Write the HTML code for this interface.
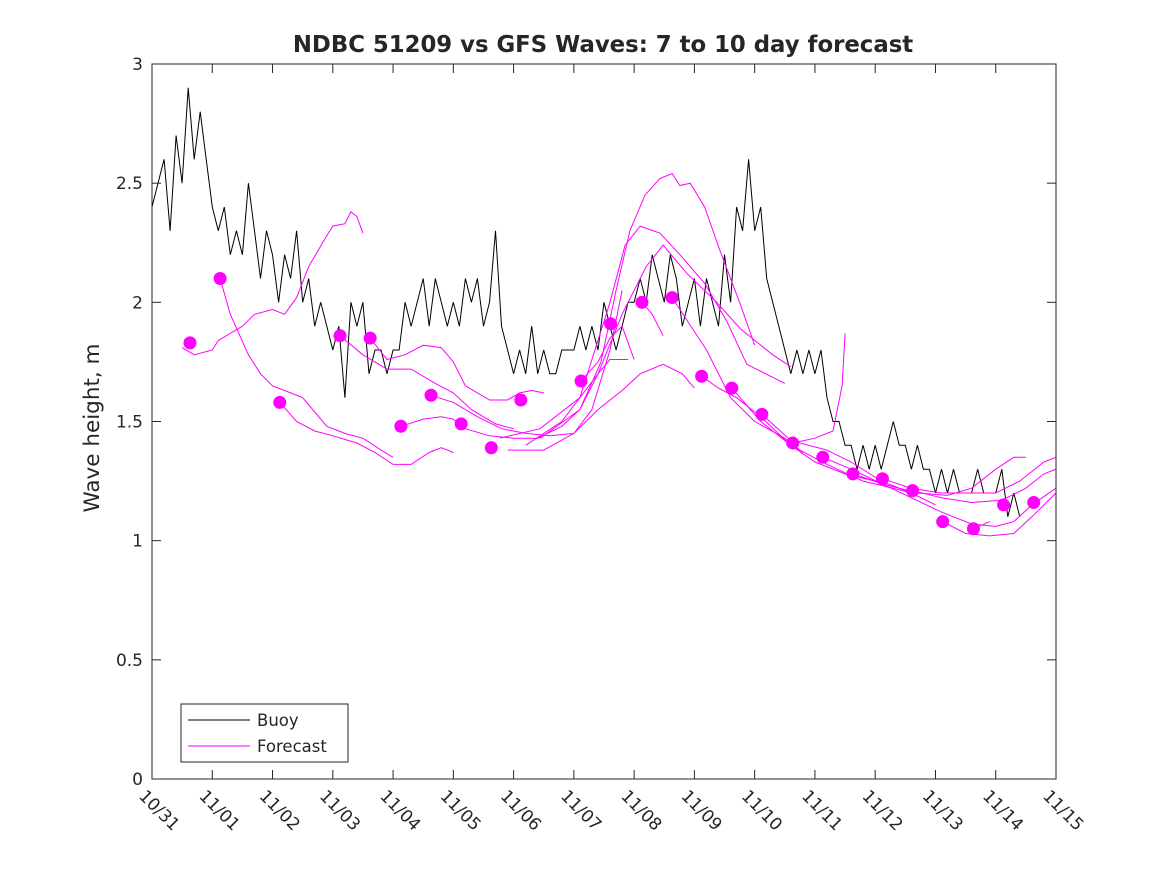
<!DOCTYPE html>
<html><head><meta charset="utf-8"><style>
body{margin:0;background:#fff;}
svg text{font-family:"DejaVu Sans","Liberation Sans",sans-serif;fill:#262626;}
</style></head><body>
<svg id="chart" width="1167" height="875" xmlns="http://www.w3.org/2000/svg">
<rect width="1167" height="875" fill="#fff"/>
<text x="603" y="52" text-anchor="middle" font-size="22.8" font-weight="bold" fill="#000">NDBC 51209 vs GFS Waves: 7 to 10 day forecast</text>
<text transform="translate(99,428) rotate(-90)" text-anchor="middle" font-size="21.5">Wave height, m</text>
<g id="plot"></g>
<g id="axes"></g>
<g>
<rect x="181" y="704" width="167" height="58" fill="#fff" stroke="#262626" stroke-width="1"/>
<line x1="188" y1="720" x2="250" y2="720" stroke="#000"/>
<text x="257" y="726" font-size="16.5">Buoy</text>
<line x1="188" y1="746" x2="250" y2="746" stroke="#f0f"/>
<text x="257" y="752" font-size="16.5">Forecast</text>
</g>
</svg>
<script>
const xTickLabels=["10/31","11/01","11/02","11/03","11/04","11/05","11/06","11/07","11/08","11/09","11/10","11/11","11/12","11/13","11/14","11/15"];
const yTicks=[0,0.5,1,1.5,2,2.5,3];
const yTickLabels=["0","0.5","1","1.5","2","2.5","3"];
const buoyStep=0.1;
const buoyValues=[
2.4,2.5,2.6,2.3,2.7,2.5,2.9,2.6,2.8,2.6,
2.4,2.3,2.4,2.2,2.3,2.2,2.5,2.3,2.1,2.3,
2.2,2.0,2.2,2.1,2.3,2.0,2.1,1.9,2.0,1.9,
1.8,1.9,1.6,2.0,1.9,2.0,1.7,1.8,1.8,1.7,
1.8,1.8,2.0,1.9,2.0,2.1,1.9,2.1,2.0,1.9,
2.0,1.9,2.1,2.0,2.1,1.9,2.0,2.3,1.9,1.8,
1.7,1.8,1.7,1.9,1.7,1.8,1.7,1.7,1.8,1.8,
1.8,1.9,1.8,1.9,1.8,2.0,1.9,1.8,1.9,2.0,
2.0,2.1,2.0,2.2,2.1,2.0,2.2,2.1,1.9,2.0,
2.1,1.9,2.1,2.0,1.9,2.2,2.0,2.4,2.3,2.6,
2.3,2.4,2.1,2.0,1.9,1.8,1.7,1.8,1.7,1.8,
1.7,1.8,1.6,1.5,1.5,1.4,1.4,1.3,1.4,1.3,
1.4,1.3,1.4,1.5,1.4,1.4,1.3,1.4,1.3,1.3,
1.2,1.3,1.2,1.3,1.2,1.2,1.2,1.3,1.2,1.2,
1.2,1.3,1.1,1.2,1.1];
const dotDays=[0.63,1.13,2.12,3.12,3.62,4.13,4.63,5.13,5.63,6.12,7.12,7.61,8.13,8.63,9.12,9.62,10.12,10.63,11.13,11.63,12.12,12.62,13.12,13.63,14.13,14.63];
const dotValues=[1.83,2.10,1.58,1.86,1.85,1.48,1.61,1.49,1.39,1.59,1.67,1.91,2.00,2.02,1.69,1.64,1.53,1.41,1.35,1.28,1.26,1.21,1.08,1.05,1.15,1.16];
const forecastLines=[
[[0.5,1.81],[0.7,1.78],[1.0,1.80],[1.1,1.84],[1.5,1.90],[1.7,1.95],[2.0,1.97],[2.2,1.95],[2.4,2.02],[2.6,2.15],[2.9,2.28],[3.0,2.32],[3.2,2.33],[3.3,2.38],[3.4,2.36],[3.5,2.29]],
[[1.13,2.10],[1.3,1.95],[1.6,1.78],[1.8,1.70],[2.0,1.65],[2.3,1.62],[2.5,1.60],[2.7,1.54],[2.9,1.48],[3.2,1.45],[3.5,1.43],[3.8,1.38],[4.0,1.35]],
[[2.12,1.58],[2.4,1.50],[2.7,1.46],[3.0,1.44],[3.4,1.41],[3.7,1.37],[4.0,1.32],[4.3,1.32],[4.6,1.37],[4.8,1.39],[5.0,1.37]],
[[3.12,1.86],[3.5,1.78],[3.9,1.72],[4.3,1.72],[4.7,1.66],[5.0,1.62],[5.3,1.55],[5.7,1.49],[6.0,1.47]],
[[3.62,1.85],[3.9,1.76],[4.2,1.78],[4.5,1.82],[4.8,1.81],[5.0,1.75],[5.2,1.65],[5.6,1.59],[5.9,1.59],[6.1,1.62],[6.3,1.63],[6.5,1.62]],
[[4.13,1.48],[4.5,1.51],[4.8,1.52],[5.0,1.51],[5.2,1.47],[5.6,1.44],[6.0,1.43],[6.4,1.43],[6.8,1.48],[7.1,1.55],[7.4,1.70],[7.6,1.76],[7.9,1.76]],
[[4.63,1.61],[5.0,1.58],[5.4,1.52],[5.8,1.47],[6.2,1.45],[6.6,1.44],[7.0,1.45],[7.3,1.55],[7.6,1.80],[7.8,2.05]],
[[6.44,1.43],[7.1,1.55],[7.45,1.75],[7.7,2.05],[7.93,2.30],[8.18,2.45],[8.43,2.52],[8.63,2.54],[8.76,2.49],[8.93,2.50],[9.17,2.40],[9.42,2.22],[9.75,2.00],[10.0,1.82]],
[[5.77,1.43],[6.44,1.47],[7.1,1.60],[7.6,2.00],[7.85,2.24],[8.1,2.32],[8.43,2.29],[8.76,2.20],[9.17,2.08],[9.54,1.92],[9.87,1.74],[10.5,1.66]],
[[6.2,1.40],[6.8,1.50],[7.4,1.70],[7.8,1.95],[8.2,2.15],[8.48,2.24],[8.88,2.12],[9.37,2.00],[9.76,1.89],[10.3,1.78],[10.6,1.73]],
[[5.9,1.38],[6.5,1.38],[7.0,1.45],[7.4,1.55],[7.8,1.63],[8.1,1.70],[8.48,1.74],[8.8,1.70],[9.0,1.64]],
[[8.13,2.00],[8.3,1.95],[8.48,1.86]],
[[7.12,1.67],[7.4,1.75],[7.6,1.85],[7.8,1.90],[8.0,1.76]],
[[8.63,2.02],[9.2,1.80],[9.6,1.60],[10.0,1.50],[10.5,1.43],[10.8,1.37]],
[[9.12,1.69],[9.4,1.64],[9.7,1.60],[10.1,1.52],[10.6,1.40],[11.0,1.33],[11.5,1.28],[12.0,1.25]],
[[10.63,1.41],[11.0,1.43],[11.3,1.46],[11.45,1.65],[11.5,1.87]],
[[9.62,1.64],[10.1,1.50],[10.6,1.40],[11.2,1.32],[11.8,1.25],[12.3,1.22],[12.6,1.20]],
[[10.12,1.53],[10.6,1.42],[11.2,1.38],[11.6,1.33],[12.1,1.25],[12.6,1.20],[13.0,1.15]],
[[11.13,1.35],[11.6,1.30],[12.1,1.24],[12.7,1.20],[13.2,1.19],[13.6,1.22],[14.0,1.30],[14.3,1.35],[14.5,1.35]],
[[11.63,1.28],[12.1,1.24],[12.6,1.18],[13.1,1.12],[13.6,1.07],[14.0,1.06],[14.3,1.08],[14.6,1.15],[15,1.22]],
[[12.12,1.26],[12.6,1.22],[13.1,1.20],[13.6,1.20],[14.0,1.20],[14.4,1.25],[14.8,1.33],[15,1.35]],
[[12.62,1.21],[13.1,1.18],[13.6,1.16],[14.1,1.17],[14.5,1.22],[14.8,1.28],[15,1.30]],
[[13.12,1.08],[13.5,1.03],[13.9,1.02],[14.3,1.03],[14.6,1.10],[15,1.20]],
[[13.63,1.05],[13.9,1.08]]
];
const X0=152,X1=1056,Y0=779,Y1=64;
function xs(d){return X0+(d/15)*(X1-X0);}
function ys(v){return Y0-(v/3)*(Y0-Y1);}
const NS="http://www.w3.org/2000/svg";
const plot=document.getElementById('plot');
const axes=document.getElementById('axes');
function mk(tag,attrs,parent){const e=document.createElementNS(NS,tag);for(const k in attrs)e.setAttribute(k,attrs[k]);parent.appendChild(e);return e;}
let bp=buoyValues.map((v,i)=>xs(i*buoyStep).toFixed(1)+","+ys(v).toFixed(1)).join(" ");
const bl=mk('polyline',{points:bp,fill:'none',stroke:'#000','stroke-width':1},plot);


forecastLines.forEach((ln,i)=>{
 const p=mk('polyline',{points:ln.map(q=>xs(q[0]).toFixed(1)+","+ys(q[1]).toFixed(1)).join(" "),fill:'none',stroke:'#f0f','stroke-width':1},plot);
 
 
});
dotDays.forEach((d,i)=>{
 const c=mk('circle',{cx:xs(d),cy:ys(dotValues[i]),r:6.5,fill:'#f0f'},plot);
 
 
});
const box=mk('rect',{x:X0,y:Y1,width:X1-X0,height:Y0-Y1,fill:'none',stroke:'#262626','stroke-width':1},axes);


yTicks.forEach((v,i)=>{
 const y=ys(v);
 mk('line',{x1:X0,y1:y,x2:X0+9,y2:y,stroke:'#262626'},axes);
 mk('line',{x1:X1,y1:y,x2:X1-9,y2:y,stroke:'#262626'},axes);
 const t=mk('text',{x:X0-9,y:y+6,'text-anchor':'end','font-size':17},axes);
 t.textContent=yTickLabels[i];
 
 
});
xTickLabels.forEach((lab,i)=>{
 const x=xs(i);
 mk('line',{x1:x,y1:Y0,x2:x,y2:Y0-9,stroke:'#262626'},axes);
 mk('line',{x1:x,y1:Y1,x2:x,y2:Y1+9,stroke:'#262626'},axes);
 const t=mk('text',{transform:`translate(${x-14},${Y0+18}) rotate(45)`,'font-size':17},axes);
 t.textContent=lab;
 
 
});
</script>
</body></html>
